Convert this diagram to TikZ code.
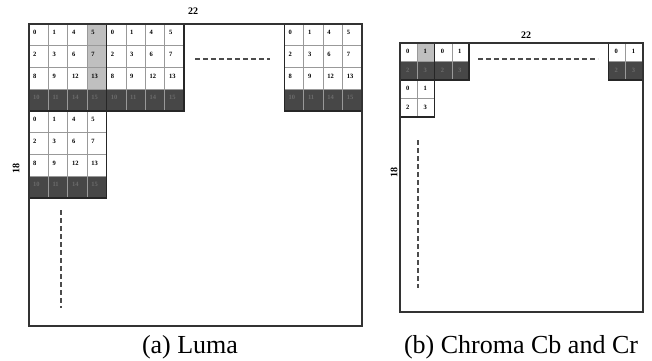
\documentclass[tikz,border=0pt]{standalone}
\usepackage{fontspec}
\setmainfont{Liberation Serif}

\tikzset{
  gridline/.style={draw=black!40, line width=0.8pt},
  blockline/.style={draw=black!85, line width=1.5pt},
  frameline/.style={draw=black!80, line width=1.8pt},
  darkrow/.style={fill=black!72},
  lightcell/.style={fill=black!25},
  cellnum/.style={font=\fontsize{6.5}{7}\selectfont\bfseries, inner sep=0pt, anchor=base west},
  dashline/.style={draw=black!70, line width=2pt, dash pattern=on 5pt off 3pt},
  sizelabel/.style={font=\fontsize{10}{12}\selectfont\bfseries, inner sep=0pt},
  caption/.style={font=\fontsize{26}{30}\selectfont, anchor=base, inner sep=0pt}
}

% block of n x n cells: name, x, y, cell width, cell height, n, numbers, text offset,
% shade of the last row's text (100 = plain last row)
\newcommand{\cellblock}[9]{%
  \begin{scope}[shift={(#2,#3)}]
    \ifnum#9<100 \fill[darkrow] (0,{(#6-1)*#5}) rectangle ({#6*#4},{#6*#5});\fi
    \foreach \k in {0,...,#6} {
      \draw[gridline] ({\k*#4},0) -- ({\k*#4},{#6*#5});
      \draw[gridline] (0,{\k*#5}) -- ({#6*#4},{\k*#5});
    }
    \foreach \n [count=\i from 0] in {#7} {
      \pgfmathtruncatemacro\col{mod(\i,#6)}
      \pgfmathtruncatemacro\row{div(\i,#6)}
      \pgfmathtruncatemacro\shade{ifthenelse(\row==#6-1,#9,100)}
      \node[cellnum, text=black!\shade] (#1-\i) at ({\col*#4+#8},{\row*#5+10.5}) {\n};
    }
    \draw[blockline] (0,0) rectangle ({#6*#4},{#6*#5});
  \end{scope}}

\begin{document}
\begin{tikzpicture}[x=1pt, y=-1pt]
  \useasboundingbox (0,0) rectangle (652,360);

  % Luma
  \fill[lightcell] (87.2,24) rectangle (106.6,89.25);
  \cellblock{la}{29}{24}{19.4}{21.75}{4}{0,1,4,5,2,3,6,7,8,9,12,13,10,11,14,15}{4}{58}
  \cellblock{lb}{106.6}{24}{19.4}{21.75}{4}{0,1,4,5,2,3,6,7,8,9,12,13,10,11,14,15}{4}{58}
  \cellblock{lc}{29}{111}{19.4}{21.75}{4}{0,1,4,5,2,3,6,7,8,9,12,13,10,11,14,15}{4}{58}
  \cellblock{ld}{284.4}{24}{19.4}{21.75}{4}{0,1,4,5,2,3,6,7,8,9,12,13,10,11,14,15}{4}{58}
  \draw[frameline] (29,24) rectangle (362,326);
  \draw[dashline] (195,59) -- (270,59);
  \draw[dashline] (61,210) -- (61,308);
  \node[sizelabel] (lw) at (193,11) {22};
  \node[sizelabel, rotate=90] (lh) at (16,168) {18};
  \node[caption] (lcap) at (190,353) {(a) Luma};

  % Chroma
  \fill[lightcell] (417.3,43) rectangle (434.6,61.5);
  \cellblock{ca}{400}{43}{17.3}{18.5}{2}{0,1,2,3}{6}{58}
  \cellblock{cb}{434.6}{43}{17.3}{18.5}{2}{0,1,2,3}{6}{58}
  \cellblock{cc}{400}{80}{17.3}{18.5}{2}{0,1,2,3}{6}{100}
  \cellblock{cd}{608.4}{43}{17.3}{18.5}{2}{0,1,2,3}{6}{58}
  \draw[frameline] (400,43) rectangle (643,312);
  \draw[dashline] (478,59) -- (598,59);
  \draw[dashline] (418,140) -- (418,288);
  \node[sizelabel] (cw) at (526,35) {22};
  \node[sizelabel, rotate=90] (ch) at (394,172) {18};
  \node[caption] (ccap) at (521,353) {(b) Chroma Cb and Cr};
\end{tikzpicture}
\end{document}
